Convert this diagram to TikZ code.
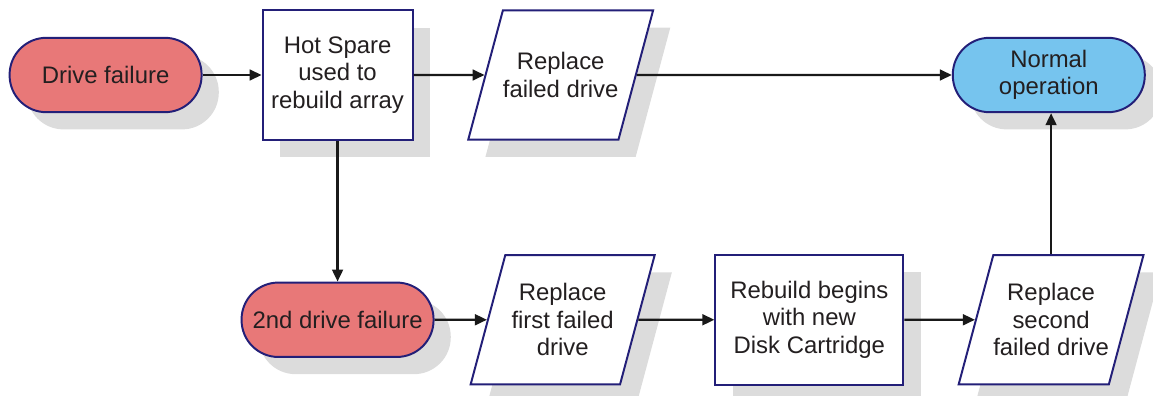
\documentclass[tikz,border=0pt]{standalone}
\usepackage{fontspec}
\setmainfont{Liberation Sans}
\usepackage{tikz}
\usetikzlibrary{shapes.geometric,arrows.meta,positioning,shadows}
\definecolor{failred}{RGB}{232,120,120}
\definecolor{okblue}{RGB}{118,196,238}
\definecolor{edgenavy}{RGB}{35,31,120}
\definecolor{shadowgray}{RGB}{220,220,220}
\definecolor{inkgray}{RGB}{35,31,32}

\begin{document}
\begin{tikzpicture}[
        flatshadow/.style={drop shadow={shadow xshift=0.43cm, shadow yshift=-0.43cm,
            fill=shadowgray, opacity=1}},
        terminal/.style={rectangle, rounded corners=0.92cm, draw=edgenavy, line width=1.4pt,
            fill=#1, text=inkgray, flatshadow,
            minimum width=4.8cm, minimum height=1.86cm,
            align=center, font=\fontsize{17}{19.5}\selectfont},
        procbox/.style={rectangle, draw=edgenavy, line width=1.4pt, fill=white,
            text=inkgray, flatshadow, inner sep=0pt,
            minimum width=3.75cm, minimum height=3.23cm,
            align=center, font=\fontsize{17}{19.5}\selectfont},
        % slant is taken from the natural height, so inner ysep sets the height
        iobox/.style={trapezium, trapezium left angle=75, trapezium right angle=105,
            trapezium stretches body=true,
            draw=edgenavy, line width=1.4pt, fill=white, text=inkgray, flatshadow,
            inner xsep=0pt, inner ysep=20.2pt, minimum width=4.6cm,
            align=center, font=\fontsize{17}{19.5}\selectfont},
        flow/.style={-{Triangle[length=0.3cm,width=0.27cm]}, line width=1.6pt, black!90}
    ]
        \useasboundingbox (0,0) rectangle (28.825,-9.9);

        % Top row
        \node[terminal=failred] (drive) at (2.64,-1.875) {Drive failure};
        \node[procbox, right=1.475cm of drive] (hotspare) {Hot Spare\\used to\\rebuild array};
        \node[iobox, inner ysep=30pt, right=1.775cm of hotspare] (replace) {Replace\\failed drive};
        \node[terminal=okblue, right=7.875cm of replace] (normal) {Normal\\operation};

        % Bottom row
        \node[terminal=failred, below=3.525cm of hotspare] (second) {2nd drive failure};
        \node[iobox, right=1.31cm of second] (replfirst) {Replace\\first failed\\drive};
        \node[procbox, minimum width=4.7cm, minimum height=3.25cm,
            right=1.9cm of replfirst] (rebuild) {Rebuild begins\\with new\\Disk Cartridge};
        \node[iobox, right=1.765cm of rebuild] (replsecond) {Replace\\second\\failed drive};

        % Connections
        \draw[flow] (drive) -- (hotspare);
        \draw[flow] (hotspare) -- (replace);
        \draw[flow] (replace) -- (normal);
        \draw[flow] (hotspare) -- (second);
        \draw[flow] (second) -- (replfirst);
        \draw[flow] (replfirst) -- (rebuild);
        \draw[flow] (rebuild) -- (replsecond);
        \draw[flow] (replsecond.north) -- (replsecond.north |- normal.south);
    \end{tikzpicture}
\end{document}
